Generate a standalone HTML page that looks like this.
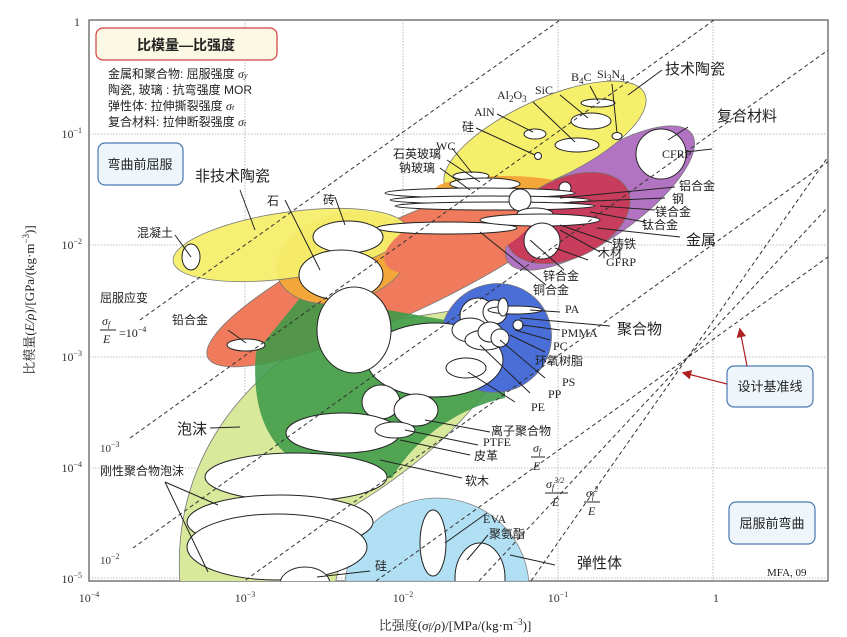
<!DOCTYPE html>
<html><head><meta charset="utf-8"><style>
html,body{margin:0;padding:0;background:#fff;width:847px;height:637px;overflow:hidden;}
svg{display:block;font-family:"Liberation Serif","Noto Serif CJK SC","Noto Sans CJK SC",serif;}
.c{font-family:"Liberation Sans","Noto Sans CJK SC",sans-serif;}
.w{fill:#fff;stroke:#222;stroke-width:1;}
.l{stroke:#222;stroke-width:1;fill:none;}
.d{stroke:#333;stroke-width:1;stroke-dasharray:4 3;fill:none;}
.g{stroke:#aaa;stroke-width:0.8;stroke-dasharray:1.5 1.5;fill:none;}
</style></head><body>
<svg width="847" height="637" viewBox="0 0 847 637" xmlns="http://www.w3.org/2000/svg">
<defs><clipPath id="cp"><rect x="89" y="20" width="739" height="561"/></clipPath>
<marker id="ar" markerWidth="8" markerHeight="8" refX="6" refY="4" orient="auto"><path d="M0,0 L8,4 L0,8 Z" fill="#b02020"/></marker></defs>
<rect x="89" y="20" width="739" height="561" fill="#fff" stroke="#555" stroke-width="1.2"/>
<g class="g"><line x1="245" y1="20" x2="245" y2="581"/><line x1="403" y1="20" x2="403" y2="581"/><line x1="558" y1="20" x2="558" y2="581"/><line x1="713" y1="20" x2="713" y2="581"/>
<line x1="89" y1="134" x2="828" y2="134"/><line x1="89" y1="245" x2="828" y2="245"/><line x1="89" y1="357" x2="828" y2="357"/><line x1="89" y1="468" x2="828" y2="468"/><line x1="89" y1="578" x2="828" y2="578"/></g>
<g clip-path="url(#cp)">
<path d="M180,584 C172,480 225,385 330,330 L520,300 C520,380 430,460 355,505 L335,584 Z" fill="#d9e99c" stroke="#777" stroke-width="0.8"/>
<ellipse cx="437" cy="588" rx="92" ry="90" fill="#a9dcf2" stroke="#777" stroke-width="0.8" opacity="0.9"/>
<ellipse cx="400" cy="268" rx="212" ry="46" transform="rotate(-25 400 268)" fill="#f07b5c" stroke="#777" stroke-width="0.8"/>
<path d="M256,352 C250,420 275,465 330,472 L392,478 C420,430 470,405 505,398 L505,330 C430,318 340,300 300,298 Z" fill="#3c9a48" opacity="0.88"/>
<ellipse cx="343" cy="258" rx="68" ry="44" transform="rotate(-15 343 258)" fill="#f3a73a" stroke="#777" stroke-width="0.8"/>
<ellipse cx="290" cy="245" rx="118" ry="33" transform="rotate(-8 290 245)" fill="#f6ef6c" stroke="#777" stroke-width="0.8" opacity="0.95"/>
<ellipse cx="496" cy="338" rx="56" ry="54" transform="rotate(-30 496 338)" fill="#4a6ed8" stroke="#777" stroke-width="0.8"/>
<ellipse cx="600" cy="198" rx="112" ry="40" transform="rotate(-35 600 198)" fill="#b274c2" stroke="#777" stroke-width="0.8"/>
<ellipse cx="545" cy="140" rx="110" ry="40" transform="rotate(-25 545 140)" fill="#f6ef6c" stroke="#777" stroke-width="0.8"/>
<ellipse cx="505" cy="190" rx="70" ry="14" fill="#f3a73a"/>
<ellipse cx="568" cy="218" rx="66" ry="40" transform="rotate(-25 568 218)" fill="#c83c5c" stroke="#777" stroke-width="0.8"/>
<ellipse cx="460" cy="235" rx="80" ry="30" transform="rotate(-20 460 235)" fill="#f07b5c"/>
<ellipse class="w" cx="598" cy="103" rx="17" ry="4"/><ellipse class="w" cx="591" cy="121" rx="20" ry="8"/><ellipse class="w" cx="617" cy="136" rx="5" ry="3.5"/>
<ellipse class="w" cx="535" cy="134" rx="11" ry="5"/><ellipse class="w" cx="577" cy="145" rx="22" ry="7"/><circle class="w" cx="538" cy="156" r="3.5"/>
<circle class="w" cx="661" cy="154" r="25"/>
<ellipse class="w" cx="471" cy="176" rx="18" ry="4"/><ellipse class="w" cx="485" cy="184" rx="35" ry="6"/><circle class="w" cx="565" cy="188" r="6"/>
<ellipse class="w" cx="480" cy="193" rx="95" ry="5"/><ellipse class="w" cx="490" cy="200" rx="100" ry="4"/><ellipse class="w" cx="495" cy="206" rx="100" ry="4"/>
<circle class="w" cx="520" cy="200" r="11"/><ellipse class="w" cx="535" cy="214" rx="18" ry="6"/>
<ellipse class="w" cx="447" cy="228" rx="70" ry="6"/><ellipse class="w" cx="540" cy="220" rx="60" ry="6"/><circle class="w" cx="542" cy="241" r="18"/>
<ellipse class="w" cx="191" cy="257" rx="9" ry="13"/><ellipse class="w" cx="348" cy="237" rx="35" ry="16"/><ellipse class="w" cx="341" cy="275" rx="42" ry="25"/>
<ellipse class="w" cx="246" cy="345" rx="19" ry="6"/>
<ellipse class="w" cx="435" cy="360" rx="68" ry="37"/><ellipse class="w" cx="354" cy="330" rx="37" ry="43"/>
<ellipse class="w" cx="466" cy="368" rx="20" ry="10"/>
<ellipse class="w" cx="478" cy="316" rx="18" ry="18"/><ellipse class="w" cx="470" cy="330" rx="18" ry="12"/><ellipse class="w" cx="495" cy="312" rx="12" ry="12"/>
<ellipse class="w" cx="485" cy="340" rx="20" ry="10"/><ellipse class="w" cx="490" cy="332" rx="12" ry="10"/><circle class="w" cx="500" cy="338" r="9"/>
<ellipse class="w" cx="515" cy="310" rx="27" ry="4"/><ellipse class="w" cx="503" cy="307" rx="5" ry="9"/><circle class="w" cx="518" cy="325" r="5"/>
<ellipse class="w" cx="381" cy="402" rx="19" ry="17"/><ellipse class="w" cx="416" cy="410" rx="22" ry="16"/>
<ellipse class="w" cx="343" cy="433" rx="57" ry="20"/><ellipse class="w" cx="395" cy="430" rx="20" ry="8"/>
<ellipse class="w" cx="296" cy="477" rx="91" ry="24"/><ellipse class="w" cx="280" cy="522" rx="93" ry="27"/><ellipse class="w" cx="277" cy="547" rx="90" ry="33"/>
<ellipse class="w" cx="305" cy="584" rx="25" ry="17"/>
<ellipse class="w" cx="433" cy="543" rx="13" ry="33"/><ellipse class="w" cx="480" cy="578" rx="25" ry="35"/>
<line class="d" x1="140" y1="320" x2="588" y2="0"/>
<line class="d" x1="130" y1="438" x2="742" y2="0"/>
<line class="d" x1="133" y1="548" x2="898" y2="0"/>
<line class="d" x1="240" y1="584" x2="900" y2="110"/>
<line class="d" x1="376" y1="581" x2="828" y2="257"/>
<line class="d" x1="479" y1="581" x2="828" y2="207"/>
<line class="d" x1="531" y1="581" x2="828" y2="157"/>
</g>
<g class="l">
<path d="M662,70 L628,95"/><path d="M688,127 L668,140"/><path d="M712,149 L686,152"/>
<path d="M590,86 L598,101"/><path d="M612,84 L617,133"/><path d="M560,95 L588,118"/><path d="M533,102 L575,142"/><path d="M497,114 L533,132"/><path d="M476,128 L535,155"/>
<path d="M452,148 L472,173"/><path d="M447,160 L480,182"/><path d="M440,168 L470,190"/>
<path d="M675,187 L560,198"/><path d="M665,198 L570,202"/><path d="M655,210 L600,206"/><path d="M645,222 L590,212"/><path d="M680,237 L597,228"/>
<path d="M612,243 L560,225"/><path d="M600,252 L560,230"/><path d="M588,260 L555,248"/><path d="M564,270 L530,240"/><path d="M546,285 L480,232"/>
<path d="M240,190 L255,230"/><path d="M285,200 L320,270"/><path d="M335,197 L345,225"/><path d="M175,235 L191,257"/><path d="M228,330 L246,343"/>
<path d="M560,312 L530,310"/><path d="M610,326 L520,318"/><path d="M560,330 L522,325"/><path d="M550,340 L515,330"/><path d="M545,352 L510,335"/>
<path d="M545,378 L500,340"/><path d="M530,393 L480,345"/><path d="M515,402 L468,372"/>
<path d="M490,432 L425,420"/><path d="M478,445 L405,430"/><path d="M470,455 L400,440"/><path d="M462,478 L380,460"/>
<path d="M210,428 L240,427"/><path d="M165,482 L218,505"/><path d="M165,482 L208,572"/>
<path d="M487,513 L445,543"/><path d="M488,535 L467,560"/><path d="M555,565 L510,555"/><path d="M370,571 L317,577"/>
</g>
<g font-size="12" fill="#222">
<text x="571" y="81">B<tspan font-size="9" dy="3">4</tspan><tspan dy="-3">C</tspan></text>
<text x="597" y="78">Si<tspan font-size="9" dy="3">3</tspan><tspan dy="-3">N</tspan><tspan font-size="9" dy="3">4</tspan></text>
<text x="497" y="99">Al<tspan font-size="9" dy="3">2</tspan><tspan dy="-3">O</tspan><tspan font-size="9" dy="3">3</tspan></text>
<text x="535" y="94">SiC</text>
<text x="474" y="116">AlN</text>
<text x="436" y="150">WC</text>
<text x="662" y="158">CFRP</text>
<text x="606" y="266">GFRP</text>
<text x="565" y="313">PA</text>
<text x="561" y="337">PMMA</text>
<text x="553" y="350">PC</text>
<text x="562" y="386">PS</text>
<text x="548" y="398">PP</text>
<text x="531" y="411">PE</text>
<text x="483" y="446">PTFE</text>
<text x="483" y="523">EVA</text>
<text x="767" y="576" font-size="11">MFA, 09</text>
</g>
<g class="c" fill="#222" font-size="12">
<text x="462" y="131">硅</text>
<text x="393" y="158">石英玻璃</text><text x="399" y="172">钠玻璃</text>
<text x="679" y="190">铝合金</text><text x="672" y="203">钢</text><text x="655" y="216">镁合金</text><text x="642" y="229">钛合金</text>
<text x="612" y="248">铸铁</text><text x="598" y="257">木材</text>
<text x="543" y="280">锌合金</text><text x="533" y="294">铜合金</text>
<text x="267" y="205">石</text><text x="323" y="204">砖</text><text x="137" y="237">混凝土</text>
<text x="100" y="302">屈服应变</text><text x="172" y="324">铅合金</text>
<text x="535" y="365">环氧树脂</text>
<text x="491" y="435">离子聚合物</text><text x="474" y="460">皮革</text><text x="465" y="485">软木</text>
<text x="100" y="475">刚性聚合物泡沫</text><text x="489" y="538">聚氨酯</text><text x="375" y="570">硅</text>
</g>
<g class="c" fill="#222" font-size="15">
<text x="665" y="74">技术陶瓷</text><text x="717" y="121">复合材料</text><text x="686" y="245">金属</text>
<text x="195" y="181">非技术陶瓷</text><text x="617" y="334">聚合物</text><text x="177" y="434">泡沫</text><text x="577" y="568">弹性体</text>
</g>
<g font-size="12" fill="#222" font-style="italic">
<text x="102" y="325">σ<tspan font-size="8" dy="2">f</tspan></text><line x1="100" y1="330" x2="116" y2="330" stroke="#222"/><text x="103" y="343">E</text>
<text x="119" y="337" font-style="normal">=10<tspan font-size="8" dy="-5">−4</tspan></text>
<text x="533" y="452">σ<tspan font-size="8" dy="2">f</tspan></text><line x1="531" y1="457" x2="545" y2="457" stroke="#222"/><text x="533" y="470">E</text>
<text x="546" y="488">σ<tspan font-size="8" dy="2">f</tspan><tspan font-size="8" dy="-7">3/2</tspan></text><line x1="545" y1="493" x2="568" y2="493" stroke="#222"/><text x="552" y="506">E</text>
<text x="586" y="497">σ<tspan font-size="8" dy="2">f</tspan><tspan font-size="8" dy="-7">2</tspan></text><line x1="584" y1="502" x2="600" y2="502" stroke="#222"/><text x="588" y="515">E</text>
</g>
<g font-size="11" fill="#333"><text x="100" y="452">10<tspan font-size="8" dy="-5">−3</tspan></text><text x="100" y="564">10<tspan font-size="8" dy="-5">−2</tspan></text></g>
<rect x="96" y="28" width="181" height="32" rx="7" fill="#fbf8e4" stroke="#d04040" stroke-width="1.2"/>
<text x="186" y="50" class="c" font-size="14" font-weight="bold" text-anchor="middle" fill="#222">比模量—比强度</text>
<g class="c" font-size="12" fill="#222">
<text x="108" y="78">金属和聚合物: 屈服强度 <tspan font-family="Liberation Serif" font-style="italic">σ<tspan font-size="8">y</tspan></tspan></text>
<text x="108" y="94">陶瓷, 玻璃 : 抗弯强度 MOR</text>
<text x="108" y="110">弹性体: 拉伸撕裂强度 <tspan font-family="Liberation Serif" font-style="italic">σ<tspan font-size="8">t</tspan></tspan></text>
<text x="108" y="126">复合材料: 拉伸断裂强度 <tspan font-family="Liberation Serif" font-style="italic">σ<tspan font-size="8">t</tspan></tspan></text>
</g>
<rect x="98" y="143" width="85" height="42" rx="7" fill="#eef6fb" stroke="#4a78b0" stroke-width="1.2"/>
<text x="140" y="169" class="c" font-size="13" text-anchor="middle" fill="#222">弯曲前屈服</text>
<rect x="727" y="366" width="86" height="41" rx="7" fill="#eef6fb" stroke="#4a78b0" stroke-width="1.2"/>
<text x="770" y="391" class="c" font-size="13" text-anchor="middle" fill="#222">设计基准线</text>
<rect x="729" y="502" width="86" height="42" rx="7" fill="#eef6fb" stroke="#4a78b0" stroke-width="1.2"/>
<text x="772" y="528" class="c" font-size="13" text-anchor="middle" fill="#222">屈服前弯曲</text>
<line x1="727" y1="384" x2="684" y2="373" stroke="#b02020" stroke-width="1.2" marker-end="url(#ar)"/>
<line x1="747" y1="366" x2="740" y2="330" stroke="#b02020" stroke-width="1.2" marker-end="url(#ar)"/>
<g font-size="12" fill="#333">
<text x="80" y="26" text-anchor="end">1</text>
<text x="82" y="138" text-anchor="end">10<tspan font-size="8" dy="-5">−1</tspan></text>
<text x="82" y="249" text-anchor="end">10<tspan font-size="8" dy="-5">−2</tspan></text>
<text x="82" y="361" text-anchor="end">10<tspan font-size="8" dy="-5">−3</tspan></text>
<text x="82" y="472" text-anchor="end">10<tspan font-size="8" dy="-5">−4</tspan></text>
<text x="82" y="583" text-anchor="end">10<tspan font-size="8" dy="-5">−5</tspan></text>
<text x="89" y="602" text-anchor="middle">10<tspan font-size="8" dy="-5">−4</tspan></text>
<text x="245" y="602" text-anchor="middle">10<tspan font-size="8" dy="-5">−3</tspan></text>
<text x="403" y="602" text-anchor="middle">10<tspan font-size="8" dy="-5">−2</tspan></text>
<text x="558" y="602" text-anchor="middle">10<tspan font-size="8" dy="-5">−1</tspan></text>
<text x="713" y="602">1</text>
</g>
<text x="455" y="630" font-size="13" text-anchor="middle" fill="#222">比强度(<tspan font-style="italic">σ<tspan font-size="9">f</tspan>/ρ</tspan>)/[MPa/(kg·m<tspan font-size="9" dy="-5">−3</tspan><tspan dy="5">)]</tspan></text>
<text transform="translate(34,300) rotate(-90)" font-size="13" text-anchor="middle" fill="#222">比模量(<tspan font-style="italic">E/ρ</tspan>)/[GPa/(kg·m<tspan font-size="9" dy="-5">−3</tspan><tspan dy="5">)]</tspan></text>
</svg>
</body></html>
